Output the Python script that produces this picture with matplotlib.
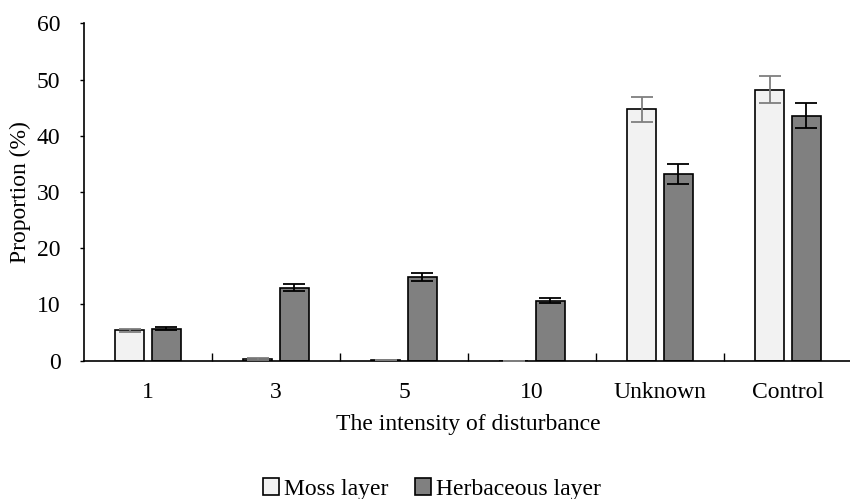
import numpy as np
import matplotlib.pyplot as plt

# === Data ===
categories = ['1', '3', '5', '10', 'Unknown', 'Control']
moss = [5.4, 0.3, 0.1, 0.0, 44.7, 48.2]
moss_err = [0.3, 0.1, 0.05, 0.0, 2.2, 2.4]
herb = [5.7, 13.0, 14.9, 10.7, 33.2, 43.6]
herb_err = [0.3, 0.6, 0.7, 0.5, 1.7, 2.2]

plt.rcParams['font.family'] = ['Liberation Serif', 'DejaVu Serif']
FS = 17

fig = plt.figure(figsize=(8.5, 4.99), dpi=100)
ax = fig.add_axes([84 / 850, 138.3 / 499, 768 / 850, 337.4 / 499])

x = np.arange(len(categories))
w = 0.229
off = 0.143

ax.bar(x - off, moss, w, color='#f2f2f2', edgecolor='black', linewidth=1.2,
       label='Moss layer', zorder=2)
ax.bar(x + off, herb, w, color='#808080', edgecolor='black', linewidth=1.2,
       label='Herbaceous layer', zorder=2)
ax.errorbar(x - off, moss, yerr=moss_err, fmt='none', ecolor='#7f7f7f',
            elinewidth=1.3, capsize=8, capthick=1.3, zorder=3)
ax.errorbar(x + off, herb, yerr=herb_err, fmt='none', ecolor='black',
            elinewidth=1.3, capsize=8, capthick=1.3, zorder=3)

ax.set_xlim(-0.5, len(categories) - 0.5)
ax.set_ylim(0, 60)
ax.set_yticks(range(0, 61, 10))
ax.set_xticks(x)
ax.set_xticklabels(categories)
ax.set_xticks(np.arange(0.5, len(categories) - 0.5, 1), minor=True)
ax.tick_params(axis='x', which='major', length=0, pad=15, labelsize=FS)
ax.tick_params(axis='x', which='minor', direction='in', length=6, width=1)
ax.tick_params(axis='y', direction='out', length=3, width=1, labelsize=FS, pad=14)

for s in ['top', 'right']:
    ax.spines[s].set_visible(False)
ax.spines['left'].set_linewidth(1.2)
ax.spines['bottom'].set_linewidth(1.2)

ax.set_ylabel('Proportion (%)', fontsize=FS, labelpad=4)
ax.set_xlabel('The intensity of disturbance', fontsize=FS, labelpad=8)

fig.legend(loc='center', bbox_to_anchor=(0.508, 0.02), ncol=2, frameon=False,
           fontsize=FS, handlelength=0.7, handleheight=0.7, handletextpad=0.2,
           columnspacing=1.1)

fig.savefig('out.png', dpi=100)
